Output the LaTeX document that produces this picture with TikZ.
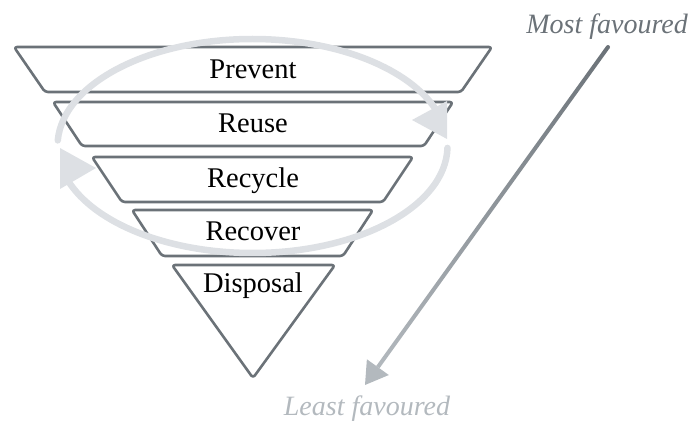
\documentclass[tikz,border=0pt]{standalone}
\usepackage{fontspec}
\setmainfont{Liberation Serif}
\usetikzlibrary{calc}
\definecolor{edge}{HTML}{6B7278}
\definecolor{ring}{HTML}{DDE0E4}
\definecolor{faint}{HTML}{B3B9BE}
\begin{document}
\begin{tikzpicture}[x=1pt,y=-1pt,
  tier/.style={draw=edge, line width=2.6pt, rounded corners=3pt, line join=round, fill=white},
  tierlabel/.style={font=\fontsize{28.5}{30}\selectfont, text=black, inner sep=0pt, anchor=base},
  ringline/.style={draw=ring, line width=6.5pt, line cap=round},
  ringhead/.style={fill=ring},
  endlabel/.style={font=\fontsize{28}{30}\selectfont\itshape, inner sep=0pt}]
\useasboundingbox (0,0) rectangle (691,423);

% the five tiers of the hierarchy
\draw[tier] (14,47) -- (492,47) -- (461,92) -- (45,92) -- cycle;
\draw[tier] (53,102) -- (453,102) -- (424,146) -- (82,146) -- cycle;
\draw[tier] (92,157) -- (413,157) -- (383,202) -- (122,202) -- cycle;
\draw[tier] (132,210) -- (373,210) -- (343,256) -- (162,256) -- cycle;
\draw[tier] (172,265) -- (335,265) -- (253,378) -- cycle;

% circular arrows around the upper tiers
\draw[ringline] (252.5,146) ++(183:195 and 107) arc[start angle=183, end angle=340, x radius=195, y radius=107];
\fill[ringhead] (447,139) -- (447,101) -- (412,120) -- cycle;
\draw[ringline] (252.5,146) ++(1:195 and 107) arc[start angle=1, end angle=161, x radius=195, y radius=107];
\fill[ringhead] (60,148) -- (96,168) -- (60,189) -- cycle;

% tier labels
\node[tierlabel] (prevent) at (253,78) {Prevent};
\node[tierlabel] (reuse) at (253,132) {Reuse};
\node[tierlabel] (recycle) at (253,187) {Recycle};
\node[tierlabel] (recover) at (253,240) {Recover};
\node[tierlabel] (disposal) at (253,292) {Disposal};

% preference scale
\node[endlabel, text=edge, anchor=base east] (most) at (688,33) {Most favoured};
\node[endlabel, text=faint, anchor=base] (least) at (367,415) {Least favoured};
\coordinate (hi) at (608,47);
\coordinate (lo) at (365,385);
\coordinate (lobase) at ($(lo)!22pt!(hi)$);
\shade[top color=edge, bottom color=faint]
  ($(hi)!2pt!90:(lobase)$) -- ($(lobase)!2pt!-90:(hi)$) --
  ($(lobase)!2pt!90:(hi)$) -- ($(hi)!2pt!-90:(lobase)$) -- cycle;
\fill[edge] (hi) circle[radius=2pt];
\fill[faint] (lo) -- ($(lobase)!13.5pt!90:(lo)$) -- ($(lobase)!13.5pt!-90:(lo)$) -- cycle;
\end{tikzpicture}
\end{document}
